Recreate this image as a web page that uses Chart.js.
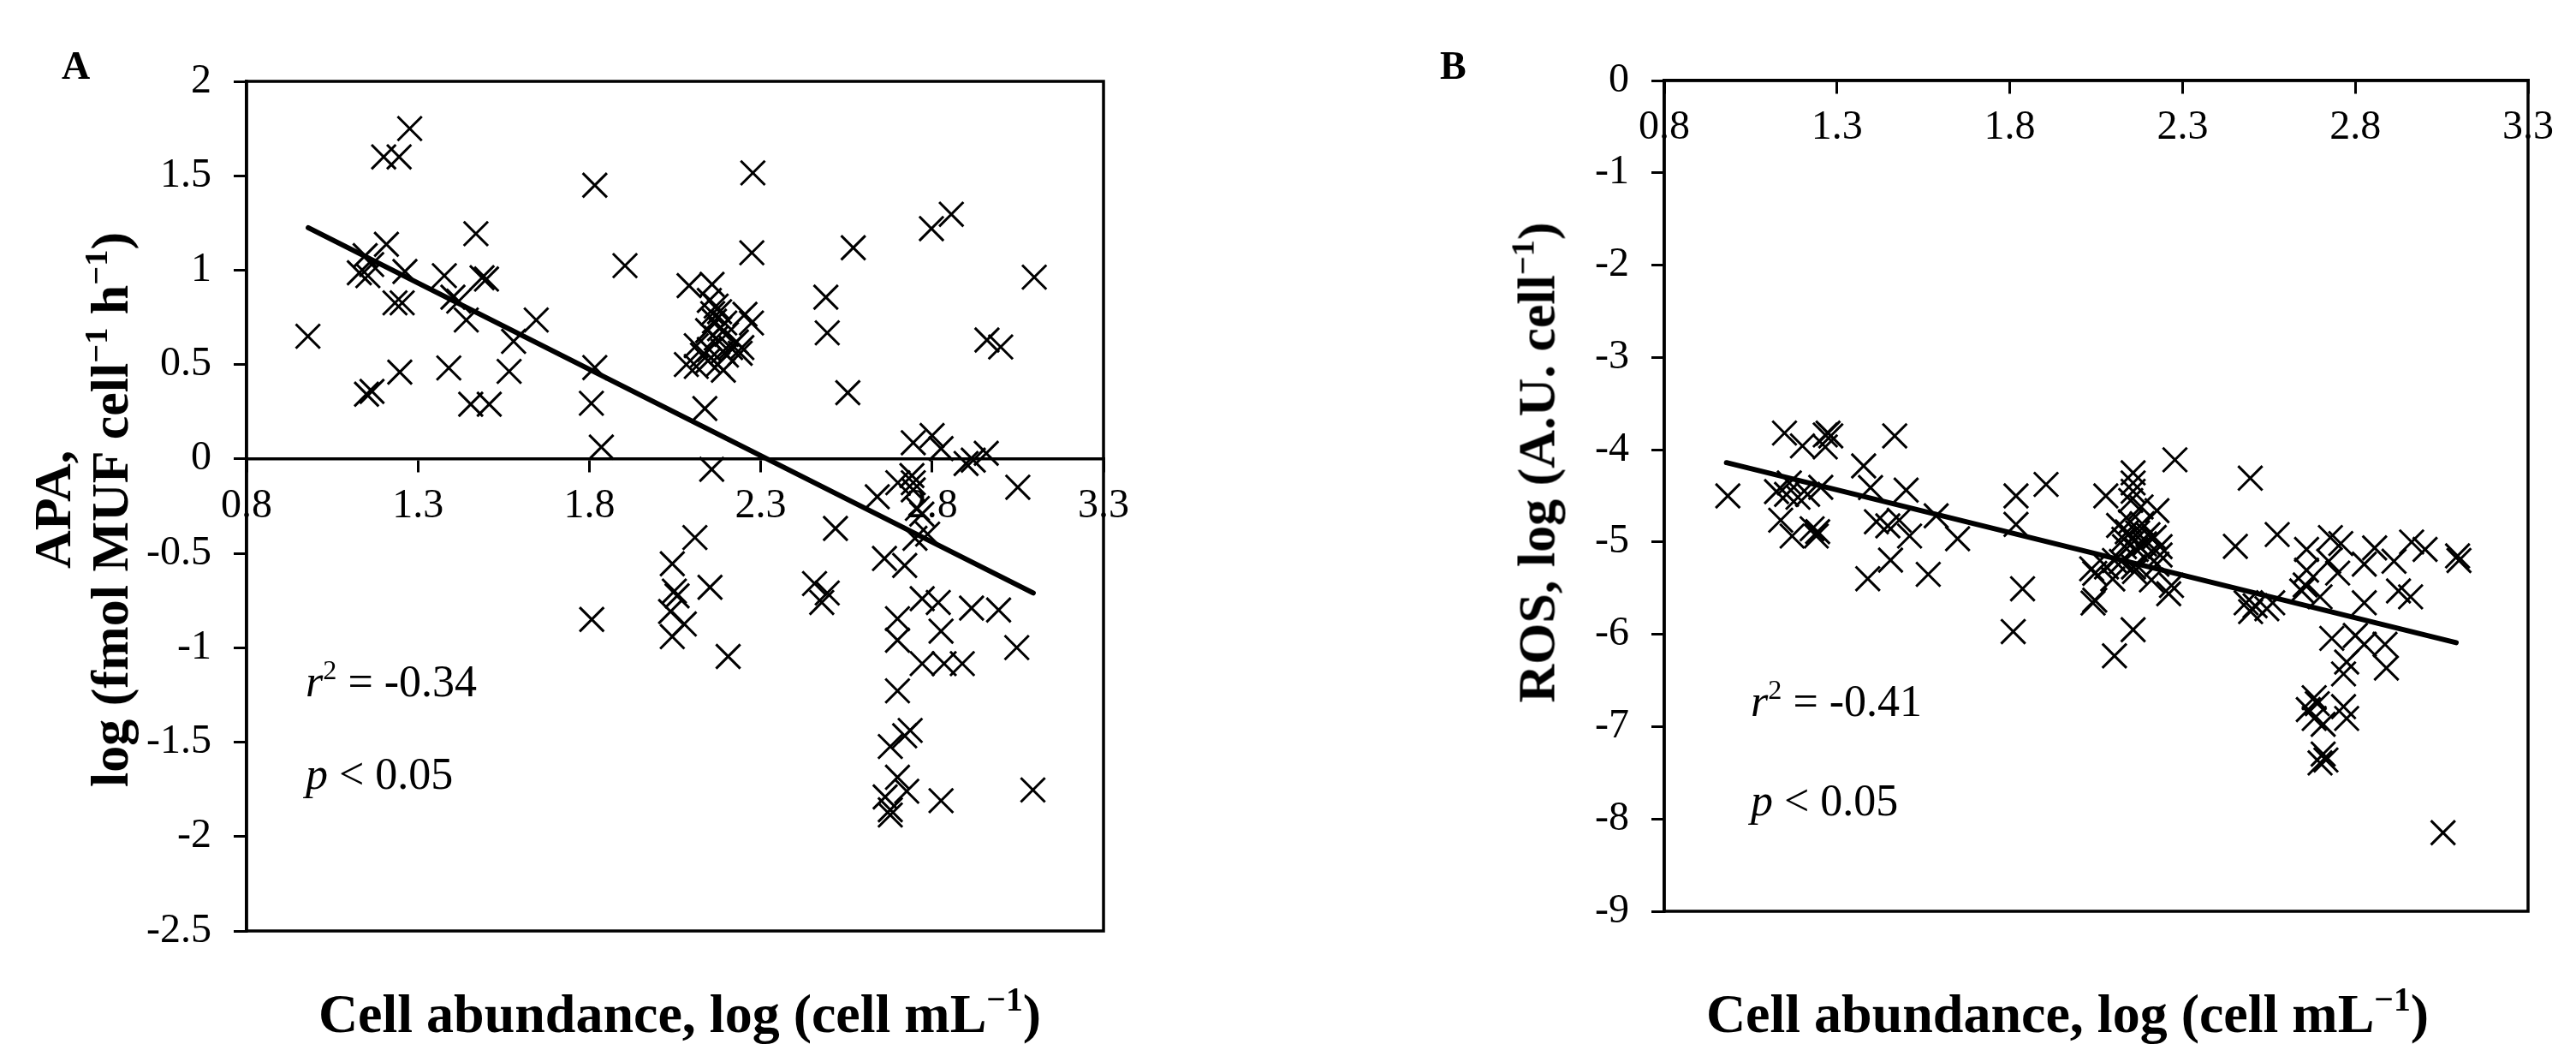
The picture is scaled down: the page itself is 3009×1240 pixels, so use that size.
<!DOCTYPE html>
<html>
<head>
<meta charset="utf-8">
<script src="https://cdn.jsdelivr.net/npm/chart.js@4.4.0/dist/chart.umd.min.js"></script>
<style>
  html, body { margin: 0; padding: 0; background: #fff; }
  body { width: 3009px; height: 1240px; position: relative; overflow: hidden;
         font-family: 'Liberation Serif', 'Times New Roman', serif; color: #000; }
  canvas { position: absolute; top: 0; }
  .t { position: absolute; white-space: nowrap; line-height: 1; }
  .bold { font-weight: bold; }
  sup { font-size: 0.62em; line-height: 0; vertical-align: 0.62em; }
  .panel { font-size: 46px; top: 54px; }
  .xtitle { font-size: 64px; top: 1152px; transform: translateX(-50%); }
  .ytitle { font-size: 62px; line-height: 67px; text-align: center;
            transform: translate(-50%, -50%) rotate(-90deg); }
  .note { font-size: 52px; }
</style>
</head>
<body>
<canvas id="chartA" width="1500" height="1240" style="left:0"></canvas>
<canvas id="chartB" width="1509" height="1240" style="left:1500px"></canvas>

<div class="t bold panel" style="left:72px">A</div>
<div class="t bold panel" style="left:1682px">B</div>

<div class="t bold ytitle" style="left:95px; top:595px">APA,<br>log (fmol MUF cell<sup>−1</sup> h<sup>−1</sup>)</div>
<div class="t bold ytitle" style="left:1795px; top:540px">ROS, log (A.U. cell<sup>−1</sup>)</div>

<div class="t bold xtitle" style="left:794px">Cell abundance, log (cell mL<sup>−1</sup>)</div>
<div class="t bold xtitle" style="left:2415px">Cell abundance, log (cell mL<sup>−1</sup>)</div>

<div class="t note" style="left:357px; top:770px"><i>r</i><sup>2</sup> = -0.34</div>
<div class="t note" style="left:357px; top:878px"><i>p</i> &lt; 0.05</div>
<div class="t note" style="left:2045px; top:793px"><i>r</i><sup>2</sup> = -0.41</div>
<div class="t note" style="left:2045px; top:909px"><i>p</i> &lt; 0.05</div>

<script>
// shared x axis
const xTicks = [0.8, 1.3, 1.8, 2.3, 2.8, 3.3];
const xTickLabels = ['0.8', '1.3', '1.8', '2.3', '2.8', '3.3'];

// panel A: APA vs cell abundance
const apaTicks = [-2.5, -2, -1.5, -1, -0.5, 0, 0.5, 1, 1.5, 2];
const apaTickLabels = ['-2.5', '-2', '-1.5', '-1', '-0.5', '0', '0.5', '1', '1.5', '2'];
const apaCell = [
  0.979, 1.276, 1.200, 1.245, 1.816, 1.469, 1.904, 1.208, 1.146, 1.165, 1.129, 1.154, 1.262, 1.233, 1.254,
  1.377, 1.402, 1.419, 1.487, 1.500, 1.441, 1.645, 1.579, 1.150, 1.166, 1.247, 1.390, 1.566, 1.454, 1.508,
  1.816, 1.806, 1.835,
  2.277, 2.856, 2.798, 2.274, 2.570, 3.098, 2.490, 2.494, 2.960, 3.000, 2.554, 2.137,
  2.091, 2.158, 2.150, 2.170, 2.160, 2.180, 2.165, 2.195, 2.180, 2.145, 2.200, 2.170, 2.229, 2.212, 2.245,
  2.112, 2.150, 2.190, 2.083, 2.112, 2.146, 2.191, 2.200, 2.240, 2.254, 2.273, 2.130, 2.175,
  2.157, 1.807, 2.108, 2.042, 2.048, 2.056, 2.152, 2.037, 2.077, 2.042, 2.205, 2.518, 2.457, 2.494, 2.478,
  2.745, 2.800, 2.826, 2.899, 2.920, 2.958, 3.050, 2.741, 2.745, 2.700, 2.745, 2.640, 2.757, 2.770, 2.750,
  2.787, 2.661, 2.720, 2.771, 2.818, 2.915, 2.994, 2.699, 2.826, 2.699, 3.047, 2.771, 2.835, 2.888, 2.699,
  2.736, 2.720, 2.678, 3.094, 2.826, 2.699, 2.726, 2.663, 2.678, 2.678
];
const apaValue = [
  0.65, 1.75, 1.60, 1.60, 1.45, 1.193, 1.024, 1.137, 1.077, 1.03, 0.986, 0.971, 0.993, 0.827, 0.827,
  0.971, 0.857, 0.836, 0.96, 0.953, 0.736, 0.736, 0.623, 0.343, 0.358, 0.46, 0.482, 0.464, 0.29, 0.29,
  0.484, 0.295, 0.063,
  1.515, 1.296, 1.22, 1.092, 1.119, 0.963, 0.857, 0.668, 0.63, 0.593, 0.351, 0.267,
  0.918, 0.925, 0.84, 0.81, 0.77, 0.78, 0.73, 0.72, 0.69, 0.68, 0.66, 0.64, 0.62, 0.59, 0.59,
  0.60, 0.58, 0.57, 0.50, 0.49, 0.52, 0.47, 0.55, 0.56, 0.766, 0.72, 0.55, 0.50,
  -0.055, -0.85, -0.416, -0.555, -0.70, -0.725, -0.68, -0.808, -0.874, -0.941, -1.046, -0.368, -0.66, -0.71, -0.76,
  0.086, 0.124, 0.055, -0.024, -0.006, 0.03, -0.15, -0.088, -0.126, -0.126, -0.164, -0.20, -0.262, -0.292, -0.42,
  -0.398, -0.527, -0.564, -0.74, -0.76, -0.79, -0.80, -0.846, -0.912, -0.96, -0.999, -1.084, -1.084, -1.084, -1.228,
  -1.438, -1.466, -1.523, -1.753, -1.81, -1.686, -1.76, -1.79, -1.858, -1.886
];
const apaFitX = [0.98, 3.095];
const apaFitY = [1.225, -0.71];

// panel B: ROS vs cell abundance
const rosTicks = [-9, -8, -7, -6, -5, -4, -3, -2, -1, 0];
const rosTickLabels = ['-9', '-8', '-7', '-6', '-5', '-4', '-3', '-2', '-1', '0'];
const rosCell = [
  0.984, 1.148, 1.200, 1.266, 1.274, 1.282, 1.266, 1.467, 1.377, 1.397, 1.500, 1.125, 1.162, 1.187, 1.154,
  1.253, 1.215, 1.137, 1.170, 1.228, 1.244, 1.240, 1.414, 1.447, 1.480, 1.510, 1.587, 1.649, 1.455, 1.389,
  1.564, 1.818, 1.905, 1.818, 1.837, 1.810, 2.078, 2.041, 2.103, 2.157,
  2.157, 2.157, 2.157, 2.150, 2.180, 2.226, 2.115, 2.149, 2.183, 2.140, 2.170, 2.200, 2.218, 2.130, 2.160,
  2.190, 2.235, 2.132, 2.166, 2.200, 2.235, 2.123, 2.158, 2.226, 2.080, 2.046, 2.098, 2.161, 2.210, 2.268,
  2.260, 2.046, 2.037, 2.103,
  2.278, 2.496, 2.453, 2.574, 2.484, 2.510, 2.544, 2.561, 2.497, 2.659, 2.659, 2.655, 2.645, 2.698, 2.728,
  2.758, 2.749, 2.723, 2.826, 2.856, 2.912, 2.963, 3.002, 3.096, 3.100, 2.826, 2.925, 2.960, 2.732, 2.800,
  2.826, 2.886, 2.890, 2.766, 2.775, 2.681, 2.690, 2.664, 2.681, 2.766, 2.775, 2.707, 2.707, 2.715, 2.698,
  3.054
];
const rosValue = [
  -4.50, -3.819, -3.958, -3.84, -3.82, -3.85, -3.97, -3.85, -4.175, -4.41, -4.437, -4.454, -4.36, -4.515, -4.484,
  -4.407, -4.484, -4.763, -4.935, -4.856, -4.887, -4.935, -4.78, -4.825, -4.763, -4.935, -4.716, -4.964, -5.196, -5.397,
  -5.35, -4.50, -4.376, -4.809, -5.506, -5.97, -4.50, -5.661, -6.233, -5.95,
  -4.25, -4.36, -4.45, -4.55, -4.62, -4.66, -4.82, -4.78, -4.80, -4.89, -4.90, -4.92, -4.95, -4.97, -4.99,
  -5.02, -5.05, -5.05, -5.08, -5.14, -5.14, -5.21, -5.27, -5.24, -5.27, -5.34, -5.40, -5.32, -5.41, -5.47,
  -5.56, -5.63, -5.29, -5.20,
  -4.109, -4.308, -5.047, -4.919, -5.658, -5.69, -5.722, -5.658, -5.754, -5.08, -5.305, -5.465, -5.53, -5.594, -4.951,
  -5.016, -5.336, -5.208, -5.24, -5.064, -5.208, -5.0, -5.08, -5.15, -5.20, -5.658, -5.53, -5.594, -6.044, -6.012,
  -6.108, -6.108, -6.365, -6.429, -6.30, -6.686, -6.751, -6.815, -6.911, -6.783, -6.911, -6.975, -7.297, -7.361, -7.393,
  -8.149
];
const rosFitX = [0.98, 3.092];
const rosFitY = [-4.14, -6.09];

const tickFont = { family: 'Liberation Serif', size: 48 };

// pin axis boxes to a fixed size so the plot area lands where the figure has it
function fixedSize(size) {
  return function (scale) {
    if (scale.isHorizontal()) scale.height = size;
    else scale.width = size;
    scale.paddingLeft = scale.paddingRight = scale.paddingTop = scale.paddingBottom = 0;
  };
}

const frame = {
  id: 'frame',
  afterDraw(chart) {
    const a = chart.chartArea, ctx = chart.ctx;
    ctx.save();
    ctx.strokeStyle = '#000';
    ctx.lineWidth = 3.5;
    ctx.strokeRect(a.left, a.top, a.right - a.left, a.bottom - a.top);
    ctx.restore();
  }
};

function makeChart(id, xs, ys, fitX, fitY, yTicks, yLabels, padding, yWidth) {
  const points = xs.map((x, i) => ({ x: x, y: ys[i] }));
  const fit = fitX.map((x, i) => ({ x: x, y: fitY[i] }));
  return new Chart(document.getElementById(id), {
    type: 'scatter',
    data: {
      datasets: [
        {
          data: points,
          pointStyle: 'crossRot',
          pointRadius: 20,
          pointHoverRadius: 20,
          borderColor: '#000',
          backgroundColor: '#000',
          borderWidth: 3
        },
        {
          data: fit,
          showLine: true,
          pointRadius: 0,
          borderColor: '#000',
          borderWidth: 6,
          borderCapStyle: 'round'
        }
      ]
    },
    options: {
      responsive: false,
      animation: false,
      devicePixelRatio: 1,
      layout: { padding: padding },
      plugins: { legend: { display: false }, tooltip: { enabled: false } },
      scales: {
        x: {
          type: 'linear',
          position: { y: 0 },
          min: xTicks[0],
          max: xTicks[xTicks.length - 1],
          afterBuildTicks: s => { s.ticks = xTicks.map(v => ({ value: v })); },
          afterFit: fixedSize(0),
          ticks: {
            font: tickFont, color: '#000', padding: 13, autoSkip: false, maxRotation: 0,
            callback: v => xTickLabels[xTicks.indexOf(v)]
          },
          grid: { drawOnChartArea: false, tickLength: 14, color: '#000', lineWidth: 3 },
          border: { color: '#000', width: 3.5 }
        },
        y: {
          type: 'linear',
          position: 'left',
          min: yTicks[0],
          max: yTicks[yTicks.length - 1],
          afterBuildTicks: s => { s.ticks = yTicks.map(v => ({ value: v })); },
          afterFit: fixedSize(yWidth),
          ticks: {
            font: tickFont, color: '#000', padding: 26, autoSkip: false,
            callback: v => yLabels[yTicks.indexOf(v)]
          },
          grid: { drawOnChartArea: false, tickLength: 15, color: '#000', lineWidth: 3 },
          border: { color: '#000', width: 3.5 }
        }
      }
    },
    plugins: [frame]
  });
}

makeChart('chartA', apaCell, apaValue, apaFitX, apaFitY, apaTicks, apaTickLabels,
  { left: 0, top: 95, right: 211, bottom: 153 }, 288);
makeChart('chartB', rosCell, rosValue, rosFitX, rosFitY, rosTicks, rosTickLabels,
  { left: 0, top: 94, right: 56, bottom: 176 }, 444);
</script>
</body>
</html>
